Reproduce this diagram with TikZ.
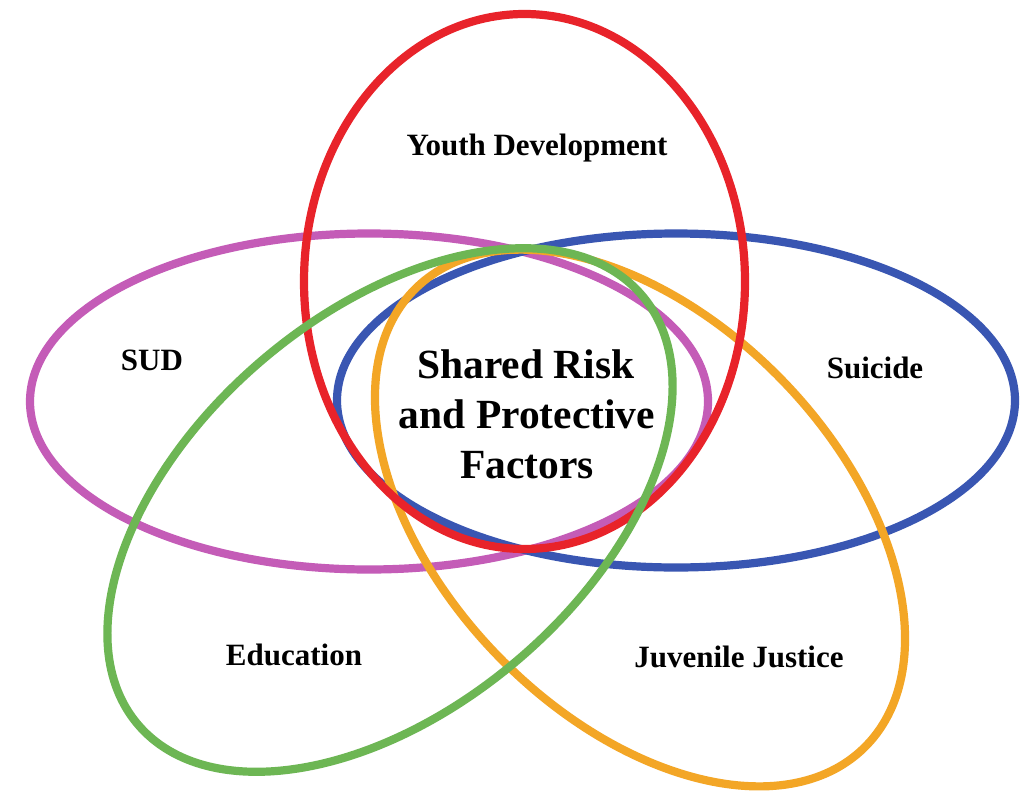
\documentclass[tikz,border=0pt]{standalone}
\usepackage{fontspec}
\setmainfont{Liberation Serif}
\definecolor{cred}{RGB}{232,35,42}
\definecolor{cpurple}{RGB}{196,92,183}
\definecolor{cblue}{RGB}{57,86,178}
\definecolor{cgreen}{RGB}{109,182,84}
\definecolor{corange}{RGB}{243,166,38}
\begin{document}
\begin{tikzpicture}[x=1pt,y=-1pt,
  ring/.style={line width=8.2pt},
  lbl/.style={font=\fontsize{31}{36}\selectfont\bfseries, anchor=base, inner sep=0pt},
  ctr/.style={font=\fontsize{41.5}{50}\selectfont\bfseries, anchor=base, inner sep=0pt}]
\useasboundingbox (0,0) rectangle (1030,795);
\fill[white] (0,0) rectangle (1030,795);
% rings
\draw[ring, cpurple] (369,401.5) ellipse [x radius=339, y radius=168];
\draw[ring, cblue] (676,400.5) ellipse [x radius=339, y radius=167];
\draw[ring, corange, rotate around={-45.8:(640,518)}] (640,518) ellipse [x radius=321, y radius=198];
\draw[ring, cred] (524.5,281.5) ellipse [x radius=220.5, y radius=267.5];
\draw[ring, cgreen, rotate around={40.4:(390,510)}] (390,510) ellipse [x radius=331, y radius=197];
% labels
\node[lbl] (youth) at (537,155) {Youth Development};
\node[lbl] (sud) at (152,370) {SUD};
\node[lbl] (suicide) at (875,378) {Suicide};
\node[lbl] (edu) at (294,665) {Education};
\node[lbl] (jj) at (739,667) {Juvenile Justice};
\node[ctr] (c1) at (526,378) {Shared Risk};
\node[ctr] (c2) at (527,428) {and Protective};
\node[ctr] (c3) at (527,478) {Factors};
\end{tikzpicture}
\end{document}
